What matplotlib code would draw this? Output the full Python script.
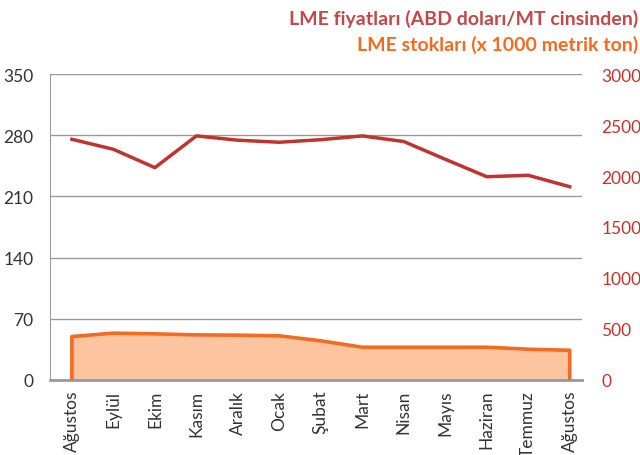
import numpy as np
import matplotlib
matplotlib.use('Agg')
import matplotlib.pyplot as plt

plt.rcParams['font.family'] = ['Lato', 'DejaVu Sans']

months = ['Ağustos', 'Eylül', 'Ekim', 'Kasım', 'Aralık', 'Ocak', 'Şubat',
          'Mart', 'Nisan', 'Mayıs', 'Haziran', 'Temmuz', 'Ağustos']
# LME prices, USD/MT (right axis)
prices = [2360, 2262, 2082, 2393, 2351, 2331, 2356, 2393, 2338, 2164, 1993, 2007, 1895]
# LME stocks, x1000 metric tons (left axis)
stocks = [49.7, 53.6, 52.8, 51.6, 51.3, 50.5, 44.8, 37.5, 37.5, 37.5, 37.5, 35.2, 34.0]

left_ticks = [0, 70, 140, 210, 280, 350]
right_ticks = [0, 500, 1000, 1500, 2000, 2500, 3000]

red = '#c0332f'
title_red = '#c4474a'
orange = '#f26b21'
fill_orange = '#fdc4a0'
grey = '#9a9a9a'
text_grey = '#333333'

fig = plt.figure(figsize=(6.4, 4.56), dpi=100)
ax = fig.add_axes([0.078, 0.1645, 0.831, 0.671])
ax2 = ax.twinx()

x = np.arange(len(months))

ax.fill_between(x, 0, stocks, color=fill_orange, lw=0, zorder=2)
# outline of the stock area, closed down to zero at both ends
edge_x = np.concatenate([[x[0]], x, [x[-1]]])
edge_y = np.concatenate([[0], stocks, [0]])
ax.plot(edge_x, edge_y, color=orange, lw=2.6, zorder=3, solid_joinstyle='round')

ax2.plot(x, prices, color=red, lw=2.5, zorder=3)

ax.set_xlim(-0.53, 12.29)
ax.set_ylim(0, 350)
ax2.set_ylim(0, 3000)

ax.set_yticks(left_ticks)
ax.set_yticklabels([str(t) for t in left_ticks], fontsize=12.5, color=text_grey)
ax2.set_yticks(right_ticks)
ax2.set_yticklabels([str(t) for t in right_ticks], fontsize=12.5, color=red)

ax.set_xticks(x)
ax.set_xticklabels(months, rotation=90, fontsize=12.5, color=text_grey)

ax.grid(axis='y', color=grey, lw=1, zorder=0)
ax.set_axisbelow(True)
ax.tick_params(length=0, pad=7)
ax.tick_params(axis='y', pad=12)
ax2.tick_params(length=0, pad=14)

for a in (ax, ax2):
    a.spines['top'].set_visible(False)
    a.spines['right'].set_visible(False)
ax2.spines['left'].set_visible(False)
ax2.spines['bottom'].set_visible(False)
ax.spines['left'].set_color(grey)
ax.spines['bottom'].set_color(grey)
ax.spines['bottom'].set_linewidth(2)

fig.text(0.997, 0.958, 'LME fiyatları (ABD doları/MT cinsinden)', ha='right', va='center',
         fontsize=14, fontweight='bold', color=title_red)
fig.text(0.997, 0.902, 'LME stokları (x 1000 metrik ton)', ha='right', va='center',
         fontsize=14, fontweight='bold', color=orange)

fig.savefig('out.png', dpi=100)
